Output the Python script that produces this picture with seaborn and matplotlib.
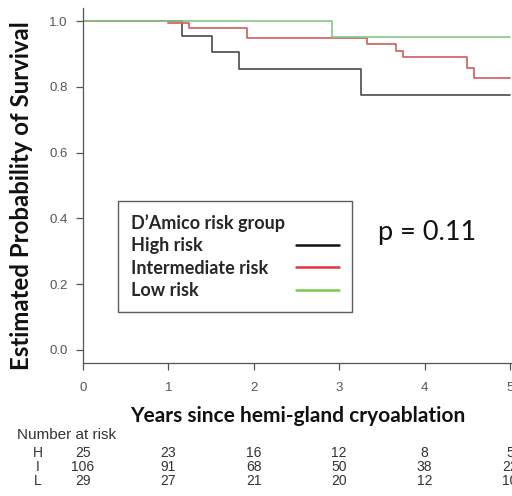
import pandas as pd
import numpy as np
import matplotlib
matplotlib.use("Agg")
import matplotlib.pyplot as plt
import matplotlib.transforms as mtransforms
import seaborn as sns

# Kaplan-Meier step points (years, survival)
high_t = [0, 1.165, 1.505, 1.83, 3.25, 5.0]
high_s = [1.0, 0.954, 0.907, 0.854, 0.775, 0.775]
inter_t = [0, 0.996, 1.24, 1.915, 3.33, 3.66, 3.75, 4.50, 4.58, 5.0]
inter_s = [1.0, 0.993, 0.978, 0.949, 0.930, 0.910, 0.890, 0.858, 0.828, 0.828]
low_t = [0, 2.91, 5.0]
low_s = [1.0, 0.952, 0.952]

groups = ["High risk", "Intermediate risk", "Low risk"]
colors = {"High risk": "#4a4a4a", "Intermediate risk": "#d65a5a", "Low risk": "#86c686"}
legend_colors = ["#111111", "#e0353a", "#7cc84a"]

# number at risk table
risk_times = [0, 1, 2, 3, 4, 5]
risk_labels = ["H", "I", "L"]
risk_high = [25, 23, 16, 12, 8, 5]
risk_inter = [106, 91, 68, 50, 38, 22]
risk_low = [29, 27, 21, 20, 12, 10]

df = pd.concat([
    pd.DataFrame({"time": high_t, "surv": high_s, "group": "High risk"}),
    pd.DataFrame({"time": inter_t, "surv": inter_s, "group": "Intermediate risk"}),
    pd.DataFrame({"time": low_t, "surv": low_s, "group": "Low risk"}),
])

sns.set_style("ticks")
plt.rcParams["font.family"] = ["Liberation Sans", "DejaVu Sans"]
bold_font = ["Lato", "DejaVu Sans"]

fig = plt.figure(figsize=(5.12, 4.96), dpi=100)
# axes box in pixels: left 83, right 512, top 8, bottom 363
ax = fig.add_axes([83 / 512, 133 / 496, 429 / 512, 355 / 496])

sns.lineplot(data=df, x="time", y="surv", hue="group", hue_order=groups,
             palette=colors, estimator=None, sort=False, drawstyle="steps-post",
             linewidth=1.2, ax=ax, legend=True)

ax.set_xlim(0, 5 + 2 / 85.3)
ax.set_ylim(-0.04, 1.04)
ax.set_xticks(risk_times)
ax.set_yticks([0, 0.2, 0.4, 0.6, 0.8, 1.0])
ax.set_yticklabels(["0.0", "0.2", "0.4", "0.6", "0.8", "1.0"])
ax.tick_params(axis="both", length=5, width=0.9, color="#555555",
               labelcolor="#555555", labelsize=9.5)
ax.tick_params(axis="y", pad=6)
ax.tick_params(axis="x", pad=9)
for s in ["top", "right"]:
    ax.spines[s].set_visible(False)
for s in ["left", "bottom"]:
    ax.spines[s].set_color("#555555")
    ax.spines[s].set_linewidth(0.9)

ax.set_ylabel("Estimated Probability of Survival", family=bold_font,
              fontweight="bold", fontsize=17.3, color="#111111")
ax.yaxis.set_label_coords((33 - 83) / 429, (363 - 196) / 355)
ax.set_xlabel("Years since hemi-gland cryoablation", family=bold_font,
              fontweight="bold", fontsize=15, labelpad=8, color="#111111")

# legend: labels on the left, line samples on the right
handles, labels = ax.get_legend_handles_labels()
leg_size = 13
leg = ax.legend(handles, labels, title="D\u2019Amico risk group", markerfirst=False,
                loc="upper left", bbox_to_anchor=((118 - 83) / 429, (363 - 201) / 355),
                borderaxespad=0, frameon=True, fancybox=False, edgecolor="#333333",
                handlelength=2.35, handletextpad=1.55, borderpad=0.72,
                labelspacing=0.3, prop={"family": bold_font, "weight": "bold", "size": leg_size},
                title_fontproperties={"family": bold_font, "weight": "bold", "size": leg_size})
leg._legend_box.align = "left"
leg.get_frame().set_linewidth(1.0)
for line, c in zip(leg.get_lines(), legend_colors):
    line.set_color(c)
    line.set_linewidth(1.8)

# left-align the label texts while keeping the line samples in one column
fig.canvas.draw()
renderer = fig.canvas.get_renderer()
widths = [t.get_window_extent(renderer).width for t in leg.get_texts()]
base_sep = leg.handletextpad * leg_size
for column in leg._legend_handle_box.get_children():
    for item, w in zip(column.get_children(), widths):
        item.sep = base_sep + (max(widths) - w) * 72 / fig.dpi

ax.text(3.46, 0.335, "p = 0.11", fontsize=19.5, family=bold_font, color="#111111")

# number at risk
trans = mtransforms.blended_transform_factory(ax.transData, fig.transFigure)
fig.text(17 / 512, 1 - 435 / 496, "Number at risk", fontsize=11, color="#333333", va="center")
rows = [risk_high, risk_inter, risk_low]
for i, (lab, vals) in enumerate(zip(risk_labels, rows)):
    yy = 1 - (453 + i * 14) / 496
    fig.text(38 / 512, yy, lab, fontsize=10, color="#333333", va="center", ha="center")
    for t, v in zip(risk_times, vals):
        ax.text(t, yy, str(v), transform=trans, fontsize=10, color="#333333",
                va="center", ha="center", clip_on=False)

fig.savefig("out.png", dpi=100)
